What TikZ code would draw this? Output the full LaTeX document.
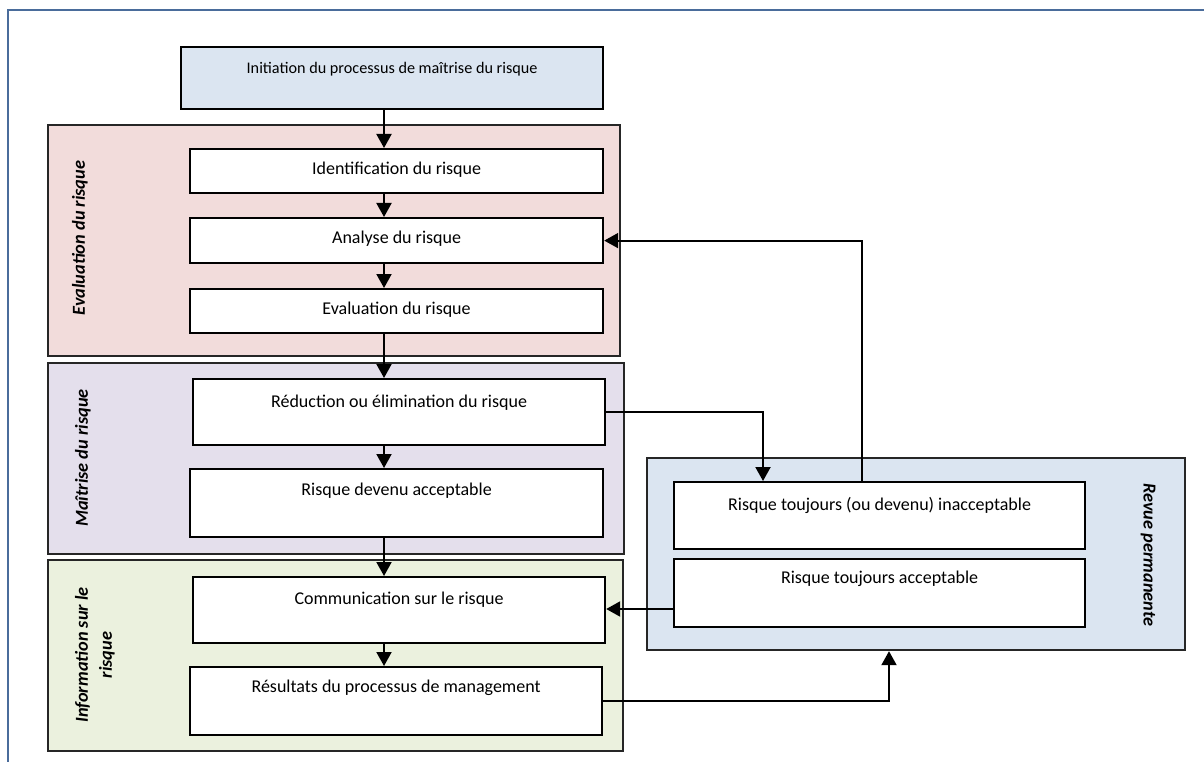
\documentclass[tikz,border=0pt]{standalone}
\usepackage{fontspec}
\setmainfont{Carlito}
\usetikzlibrary{arrows.meta,calc}
\definecolor{pinkfill}{HTML}{F2DCDB}
\definecolor{lavfill}{HTML}{E4DFEC}
\definecolor{greenfill}{HTML}{EBF1DE}
\definecolor{bluefill}{HTML}{DBE5F1}
\definecolor{framecol}{HTML}{4A6C9B}
\newcommand\mybox[6]{\node[#6, minimum width=#4-#2, minimum height=#5-#3] (#1) at (#2,#3) {};}
\begin{document}
\begin{tikzpicture}[x=1pt,y=-1pt,
  grp/.style={draw=black!85, line width=2.2pt, anchor=north west, inner sep=0pt},
  box/.style={draw=black, line width=2.2pt, fill=white, anchor=north west, inner sep=0pt},
  arr/.style={line width=2pt, -{Triangle[width=15pt,length=14pt]}},
  sidelab/.style={font=\bfseries\itshape\fontsize{18.3}{24}\selectfont, align=center},
  boxtext/.style={font=\fontsize{18}{21}\selectfont},
  smalltext/.style={font=\fontsize{16.2}{19}\selectfont}
]
\useasboundingbox (0,0) rectangle (1204,762);
\fill[white] (0,0) rectangle (1204,762);
\draw[framecol, line width=2.5pt] (8,762) -- (8,10) -- (1204,10);

% groups
\mybox{gEval}{47}{124}{619}{355}{grp, fill=pinkfill}
\mybox{gMait}{47}{362}{623}{553}{grp, fill=lavfill}
\mybox{gInfo}{47}{559}{622}{750}{grp, fill=greenfill}
\mybox{gRevue}{646}{457}{1184}{649}{grp, fill=bluefill}

% boxes
\mybox{init}{180}{46}{602}{108}{box, fill=bluefill}
\mybox{ident}{189}{148}{602}{192}{box}
\mybox{analyse}{189}{217}{602}{262}{box}
\mybox{evalb}{189}{288}{602}{332}{box}
\mybox{reduc}{192}{378}{604}{444}{box}
\mybox{devenu}{189}{468}{602}{536}{box}
\mybox{comm}{192}{576}{604}{642}{box}
\mybox{res}{189}{666}{601}{734}{box}
\mybox{inacc}{673}{481}{1084}{548}{box}
\mybox{acc}{673}{558}{1084}{626}{box}

% texts
\node[smalltext] (tinit) at ($(init.north)+(0,23)$) {Initiation du processus de maîtrise du risque};
\node[boxtext] (tident) at ($(ident.north)+(0,22)$) {Identification du risque};
\node[boxtext] (tanalyse) at ($(analyse.north)+(0,22)$) {Analyse du risque};
\node[boxtext] (tevalb) at ($(evalb.north)+(0,22)$) {Evaluation du risque};
\node[boxtext] (treduc) at ($(reduc.north)+(0,25)$) {Réduction ou élimination du risque};
\node[boxtext] (tdevenu) at ($(devenu.north)+(0,23)$) {Risque devenu acceptable};
\node[boxtext] (tcomm) at ($(comm.north)+(0,24)$) {Communication sur le risque};
\node[boxtext] (tres) at ($(res.north)+(0,22)$) {Résultats du processus de management};
\node[boxtext] (tinacc) at ($(inacc.north)+(0,24)$) {Risque toujours (ou devenu) inacceptable};
\node[boxtext] (tacc) at ($(acc.north)+(0,21)$) {Risque toujours acceptable};

% side labels
\node[sidelab, rotate=90] (lEval) at (80,238) {Evaluation du risque};
\node[sidelab, rotate=90] (lMait) at (83,458) {Maîtrise du risque};
\node[sidelab, rotate=90] (lInfo) at (95,655) {Information sur le\\risque};
\node[sidelab, rotate=-90] (lRevue) at (1148,555) {Revue permanente};

% arrows
\coordinate (ax) at (384,0);
\coordinate (c1) at (763,0);
\coordinate (c2) at (862,0);
\coordinate (c3) at (0,609);
\coordinate (c4) at (889,0);
\draw[arr] (init.south -| ax) -- (ident.north -| ax);
\draw[arr] (ident.south -| ax) -- (analyse.north -| ax);
\draw[arr] (analyse.south -| ax) -- (evalb.north -| ax);
\draw[arr] (evalb.south -| ax) -- (reduc.north -| ax);
\draw[arr] (reduc.south -| ax) -- (devenu.north -| ax);
\draw[arr] (devenu.south -| ax) -- (comm.north -| ax);
\draw[arr] (comm.south -| ax) -- (res.north -| ax);
\draw[arr] (reduc.east) -| (inacc.north -| c1);
\draw[arr] (inacc.north -| c2) |- (analyse.east);
\draw[arr] (acc.west |- c3) -- (comm.east |- c3);
\draw[arr] (res.east) -| (gRevue.south -| c4);
\end{tikzpicture}
\end{document}
